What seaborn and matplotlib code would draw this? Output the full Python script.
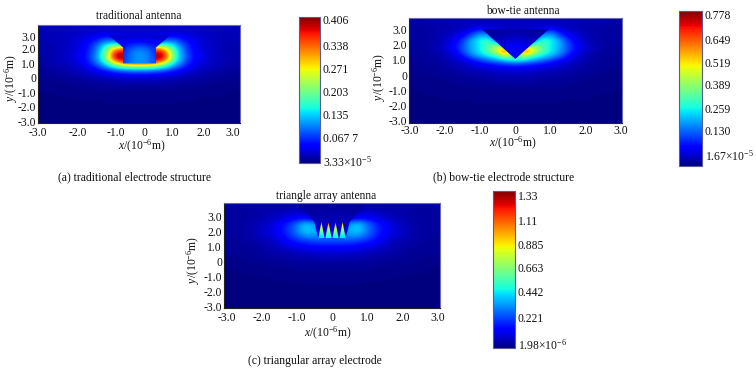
import numpy as np
import pandas as pd
import matplotlib.pyplot as plt
from matplotlib.patches import Polygon
import seaborn as sns

# field values, percent of the colour scale peak; rows top to bottom, 0.25 um steps
x_nodes = [-3, -2.75, -2.5, -2.25, -2, -1.75, -1.5, -1.25, -1, -0.75, -0.5, -0.25, 0,
           0.25, 0.5, 0.75, 1, 1.25, 1.5, 1.75, 2, 2.25, 2.5, 2.75, 3]
y_top_ab = 3.75
y_top_c = 4.0

field_a = [
    [6,6,6,6,7,7,7,7,7,7,7,7,7,7,7,7,7,7,7,7,7,6,6,6,6],
    [5,6,6,6,6,7,7,7,7,7,7,7,7,7,7,7,7,7,7,7,6,6,6,6,5],
    [5,5,5,6,6,7,7,7,8,7,7,7,7,7,7,7,8,7,7,7,6,6,5,5,5],
    [5,5,5,6,6,7,8,9,10,9,8,8,8,8,8,9,10,9,8,7,6,6,5,5,5],
    [5,5,5,6,7,8,10,14,18,16,14,12,12,12,14,16,18,14,10,8,7,6,5,5,5],
    [4,5,5,6,7,9,13,19,27,26,24,20,18,20,24,26,27,19,13,9,7,6,5,5,4],
    [4,4,5,6,7,10,15,24,38,46,46,44,42,44,46,46,38,24,15,10,7,6,5,4,4],
    [4,4,5,6,7,10,16,27,46,72,82,70,60,70,82,72,46,27,16,10,7,6,5,4,4],
    [4,4,5,6,8,11,17,29,50,88,93,85,70,85,93,88,50,29,17,11,8,6,5,4,4],
    [4,4,5,6,8,11,18,30,52,94,100,90,75,90,100,94,52,30,18,11,8,6,5,4,4],
    [3,4,5,6,8,11,17,29,48,84,94,90,80,90,94,84,48,29,17,11,8,6,5,4,3],
    [3,4,5,5,7,10,15,25,38,60,76,83,84,83,76,60,38,25,15,10,7,5,5,4,3],
    [3,3,4,5,6,8,12,18,28,38,46,49,50,49,46,38,28,18,12,8,6,5,4,3,3],
    [2,3,3,4,5,6,8,12,16,21,24,26,26,26,24,21,16,12,8,6,5,4,3,3,2],
    [2,2,3,3,4,5,6,8,10,12,13,14,14,14,13,12,10,8,6,5,4,3,3,2,2],
    [2,2,2,2,3,3,4,5,6,6,7,7,7,7,7,6,6,5,4,3,3,2,2,2,2],
    [1,1,2,2,2,3,3,3,4,4,5,5,5,5,5,4,4,3,3,3,2,2,2,1,1],
    [1,1,1,1,2,2,2,2,3,3,3,3,3,3,3,3,3,2,2,2,2,1,1,1,1],
    [1,1,1,1,1,1,2,2,2,2,2,2,2,2,2,2,2,2,2,1,1,1,1,1,1],
    [0,1,1,1,1,1,1,1,1,1,1,1,1,1,1,1,1,1,1,1,1,1,1,1,0],
    [0,0,1,1,1,1,1,1,1,1,1,1,1,1,1,1,1,1,1,1,1,1,1,0,0],
    [0,0,0,0,0,1,1,1,1,1,1,1,1,1,1,1,1,1,1,1,0,0,0,0,0],
    [0,0,0,0,0,0,0,0,1,1,1,1,1,1,1,1,1,0,0,0,0,0,0,0,0],
    [0,0,0,0,0,0,0,0,0,0,0,0,0,0,0,0,0,0,0,0,0,0,0,0,0],
    [0,0,0,0,0,0,0,0,0,0,0,0,0,0,0,0,0,0,0,0,0,0,0,0,0],
    [0,0,0,0,0,0,0,0,0,0,0,0,0,0,0,0,0,0,0,0,0,0,0,0,0],
    [0,0,0,0,0,0,0,0,0,0,0,0,0,0,0,0,0,0,0,0,0,0,0,0,0],
    [0,0,0,0,0,0,0,0,0,0,0,0,0,0,0,0,0,0,0,0,0,0,0,0,0],
    [0,0,0,0,0,0,0,0,0,0,0,0,0,0,0,0,0,0,0,0,0,0,0,0,0],
]

field_b = [
    [4,4,4,4,5,5,5,5,5,5,5,5,5,5,5,5,5,5,5,5,5,4,4,4,4],
    [3,4,4,4,4,5,5,5,5,5,5,5,5,5,5,5,5,5,5,5,4,4,4,4,3],
    [3,3,4,4,4,5,5,6,7,6,6,6,6,6,6,6,7,6,5,5,4,4,4,3,3],
    [3,3,3,4,4,5,6,9,14,10,8,6,6,6,8,10,14,9,6,5,4,4,3,3,3],
    [3,3,3,4,5,7,9,16,26,20,12,10,10,10,12,20,26,16,9,7,5,4,3,3,3],
    [3,3,3,4,5,8,13,22,32,32,16,12,10,12,16,32,32,22,13,8,5,4,3,3,3],
    [3,3,3,4,6,10,17,30,38,42,20,14,12,14,20,42,38,30,17,10,6,4,3,3,3],
    [2,3,3,4,7,11,19,30,36,46,46,20,14,20,46,46,36,30,19,11,7,4,3,3,2],
    [2,3,3,5,7,12,20,30,36,46,62,72,16,72,62,46,36,30,20,12,7,5,3,3,2],
    [2,2,3,4,6,10,18,28,36,44,60,88,18,88,60,44,36,28,18,10,6,4,3,2,2],
    [2,2,3,3,5,8,13,24,30,36,42,60,40,60,42,36,30,24,13,8,5,3,3,2,2],
    [2,2,2,3,4,6,9,14,20,26,30,36,42,36,30,26,20,14,9,6,4,3,2,2,2],
    [2,2,2,3,3,5,6,9,12,15,18,20,22,20,18,15,12,9,6,5,3,3,2,2,2],
    [1,2,2,2,3,4,5,6,8,9,10,11,12,11,10,9,8,6,5,4,3,2,2,2,1],
    [1,1,2,2,3,3,4,5,5,6,7,7,8,7,7,6,5,5,4,3,3,2,2,1,1],
    [1,1,1,2,2,2,3,3,4,4,5,5,5,5,5,4,4,3,3,2,2,2,1,1,1],
    [1,1,1,1,2,2,2,3,3,3,4,4,4,4,4,3,3,3,2,2,2,1,1,1,1],
    [1,1,1,1,1,2,2,2,2,2,3,3,3,3,3,2,2,2,2,2,1,1,1,1,1],
    [1,1,1,1,1,1,1,2,2,2,2,2,2,2,2,2,2,2,1,1,1,1,1,1,1],
    [0,1,1,1,1,1,1,1,1,1,1,1,1,1,1,1,1,1,1,1,1,1,1,1,0],
    [0,0,1,1,1,1,1,1,1,1,1,1,1,1,1,1,1,1,1,1,1,1,1,0,0],
    [0,0,0,0,1,1,1,1,1,1,1,1,1,1,1,1,1,1,1,1,1,0,0,0,0],
    [0,0,0,0,0,0,0,1,1,1,1,1,1,1,1,1,1,1,0,0,0,0,0,0,0],
    [0,0,0,0,0,0,0,0,0,0,0,0,0,0,0,0,0,0,0,0,0,0,0,0,0],
    [0,0,0,0,0,0,0,0,0,0,0,0,0,0,0,0,0,0,0,0,0,0,0,0,0],
    [0,0,0,0,0,0,0,0,0,0,0,0,0,0,0,0,0,0,0,0,0,0,0,0,0],
    [0,0,0,0,0,0,0,0,0,0,0,0,0,0,0,0,0,0,0,0,0,0,0,0,0],
    [0,0,0,0,0,0,0,0,0,0,0,0,0,0,0,0,0,0,0,0,0,0,0,0,0],
    [0,0,0,0,0,0,0,0,0,0,0,0,0,0,0,0,0,0,0,0,0,0,0,0,0],
]

field_c = [
    [5,5,5,5,5,5,5,5,5,5,5,5,5,5,5,5,5,5,5,5,5,5,5,5,5],
    [4,4,4,4,4,4,4,4,4,4,4,4,4,4,4,4,4,4,4,4,4,4,4,4,4],
    [3,3,3,4,4,4,4,4,5,4,4,4,4,4,4,4,5,4,4,4,4,4,3,3,3],
    [3,3,3,3,4,4,5,6,7,6,4,4,4,4,4,6,7,6,5,4,4,3,3,3,3],
    [3,3,3,3,4,5,6,8,10,9,6,4,4,4,6,9,10,8,6,5,4,3,3,3,3],
    [3,3,3,4,5,6,8,11,15,18,14,8,6,8,14,18,15,11,8,6,5,4,3,3,3],
    [3,3,3,4,5,7,11,16,22,32,26,16,12,16,26,32,22,16,11,7,5,4,3,3,3],
    [3,3,3,4,6,8,12,17,24,34,30,20,14,20,30,34,24,17,12,8,6,4,3,3,3],
    [3,3,3,4,6,8,12,17,24,33,30,24,16,24,30,33,24,17,12,8,6,4,3,3,3],
    [3,3,3,4,6,8,11,16,22,28,28,24,20,24,28,28,22,16,11,8,6,4,3,3,3],
    [2,3,3,4,5,6,9,14,18,22,23,22,22,22,23,22,18,14,9,6,5,4,3,3,2],
    [2,2,3,3,4,5,8,11,14,16,17,18,18,18,17,16,14,11,8,5,4,3,3,2,2],
    [2,2,2,3,4,4,6,8,10,12,13,13,13,13,13,12,10,8,6,4,4,3,2,2,2],
    [2,2,2,2,3,4,5,6,7,8,9,9,9,9,9,8,7,6,5,4,3,2,2,2,2],
    [2,2,2,2,3,3,4,4,5,6,6,7,7,7,6,6,5,4,4,3,3,2,2,2,2],
    [1,1,2,2,2,3,3,3,4,4,5,5,5,5,5,4,4,3,3,3,2,2,2,1,1],
    [1,1,1,2,2,2,2,3,3,3,3,3,3,3,3,3,3,3,2,2,2,2,1,1,1],
    [1,1,1,1,1,2,2,2,2,2,2,2,2,2,2,2,2,2,2,2,1,1,1,1,1],
    [0,1,1,1,1,1,1,1,2,2,2,2,2,2,2,2,2,1,1,1,1,1,1,1,0],
    [0,0,1,1,1,1,1,1,1,1,1,1,1,1,1,1,1,1,1,1,1,1,1,0,0],
    [0,0,0,0,1,1,1,1,1,1,1,1,1,1,1,1,1,1,1,1,1,0,0,0,0],
    [0,0,0,0,0,0,1,1,1,1,1,1,1,1,1,1,1,1,1,0,0,0,0,0,0],
    [0,0,0,0,0,0,0,0,0,1,1,1,1,1,1,1,0,0,0,0,0,0,0,0,0],
    [0,0,0,0,0,0,0,0,0,0,0,0,0,0,0,0,0,0,0,0,0,0,0,0,0],
    [0,0,0,0,0,0,0,0,0,0,0,0,0,0,0,0,0,0,0,0,0,0,0,0,0],
    [0,0,0,0,0,0,0,0,0,0,0,0,0,0,0,0,0,0,0,0,0,0,0,0,0],
    [0,0,0,0,0,0,0,0,0,0,0,0,0,0,0,0,0,0,0,0,0,0,0,0,0],
    [0,0,0,0,0,0,0,0,0,0,0,0,0,0,0,0,0,0,0,0,0,0,0,0,0],
    [0,0,0,0,0,0,0,0,0,0,0,0,0,0,0,0,0,0,0,0,0,0,0,0,0],
    [0,0,0,0,0,0,0,0,0,0,0,0,0,0,0,0,0,0,0,0,0,0,0,0,0],
]

# inside the electrodes, percent of peak, x -1..1, 0.25 um steps, y from the top down
electrode_a = [
    [6,6,6,6,6,6,6,6,6],
    [7,7,7,8,8,8,7,7,7],
    [9,9,10,12,12,12,10,9,9],
    [12,12,13,16,18,16,13,12,12],
    [14,14,15,21,24,21,15,14,14],
    [15,15,16,24,27,24,16,15,15],
    [15,15,17,25,28,25,17,15,15],
    [15,15,17,25,28,25,17,15,15],
    [17,17,20,25,27,25,20,17,17],
]
electrode_b = [
    [3,3,3,3,3,3,3,3,3],
    [3,3,3,4,4,4,3,3,3],
    [4,4,4,5,6,5,4,4,4],
    [5,5,6,7,8,7,6,5,5],
    [7,7,7,9,11,9,7,7,7],
    [9,9,9,10,13,10,9,9,9],
    [10,10,10,12,14,12,10,10,10],
    [10,10,10,11,13,11,10,10,10],
    [10,10,10,10,10,10,10,10,10],
]
electrode_c = [
    [3,3,3,3,3,3,3,3,3],
    [3,3,3,3,3,3,3,3,3],
    [3,3,3,3,3,3,3,3,3],
    [3,3,3,4,4,4,3,3,3],
    [4,4,4,4,4,4,4,4,4],
    [4,4,5,5,5,5,5,4,4],
    [5,5,6,6,6,6,6,5,5],
    [6,6,8,8,8,8,8,6,6],
    [7,7,9,10,10,10,9,7,7],
    [8,8,10,11,11,11,10,8,8],
    [9,9,11,12,12,12,11,9,9],
]
electrode_x = [-1, -0.75, -0.5, -0.25, 0, 0.25, 0.5, 0.75, 1]
electrode_top = [3.0, 3.0, 4.0]

outline_a = [(-0.94, 2.96), (0.94, 2.96), (0.5, 2.1), (0.5, 1.0), (-0.5, 1.0), (-0.5, 2.1)]
outline_b = [(-0.95, 3.0), (0.95, 3.0), (0.0, 1.05)]
outline_c = [(-1.0, 3.95), (1.0, 3.95), (0.5, 2.67), (0.39, 1.6), (-0.39, 1.6), (-0.5, 2.67)]

# hot gaps between the teeth of the triangle array, top down
spike_x = [-0.3, -0.1, 0.1, 0.3]
spike_half_width = 0.09
spike_tip = 2.66
spike_base = 1.58
spike_levels = [
    [72, 88, 88, 72],
    [65, 72, 72, 65],
    [58, 60, 60, 58],
    [50, 52, 52, 50],
    [42, 45, 45, 42],
    [35, 38, 38, 35],
]

peaks = [0.406, 0.778, 1.33]
titles = ['traditional antenna', 'bow-tie antenna', 'triangle array antenna']
captions = ['(a) traditional electrode structure', '(b) bow-tie electrode structure',
            '(c) triangular array electrode']
bar_labels_a = ['0.406', '0.338', '0.271', '0.203', '0.135', '0.067 7', '3.33×10$^{-5}$']
bar_labels_b = ['0.778', '0.649', '0.519', '0.389', '0.259', '0.130', '1.67×10$^{-5}$']
bar_labels_c = ['1.33', '1.11', '0.885', '0.663', '0.442', '0.221', '1.98×10$^{-6}$']
bar_pos_a = [0.398, 0.328, 0.264, 0.200, 0.136, 0.072, 0.006]
bar_pos_b = [0.758, 0.637, 0.522, 0.407, 0.291, 0.176, 0.055]
bar_pos_c = [1.288, 1.084, 0.881, 0.686, 0.475, 0.262, 0.034]

tick_values = [-3, -2, -1, 0, 1, 2, 3]
tick_names = ['-3.0', '-2.0', '-1.0', '0', '1.0', '2.0', '3.0']
xlabel_pos_a = [-3.09, -1.88, -0.73, 0.15, 1.0, 1.94, 2.85]
ylabel_pos_a = [-3.05, -1.98, -1.05, 0.03, 1.02, 2.0, 2.85]

W, H = 756, 372
plt.rcParams['figure.dpi'] = 100
sns.set_theme(style='ticks')
plt.rcParams['font.family'] = ['Liberation Serif', 'DejaVu Sans']
plt.rcParams['mathtext.fontset'] = 'custom'
plt.rcParams['mathtext.rm'] = 'Liberation Serif'
plt.rcParams['mathtext.it'] = 'Liberation Serif:italic'
plt.rcParams['axes.unicode_minus'] = False

fig = plt.figure(figsize=(W / 100, H / 100), dpi=100)


def px_axes(left, top, right, bottom):
    return fig.add_axes([left / W, 1 - bottom / H, (right - left) / W, (bottom - top) / H])


def px_text(x, y, s, **kw):
    fig.text(x / W, 1 - y / H, s, ha='center', va='center', color='#111111', **kw)


def draw_panel(field, y_top, peak, inner, inner_top, outline, box, bar_box, xlim, ylim,
               bar_pos, bar_labels, xlabel_pos=None, ylabel_pos=None, xpad=1.5):
    ax = px_axes(*box)
    cax = px_axes(*bar_box)
    values = np.array(field) / 100 * peak
    table = pd.DataFrame(values, columns=x_nodes)
    sns.heatmap(table, ax=ax, cbar_ax=cax, cmap='jet', vmin=0, vmax=peak,
                xticklabels=False, yticklabels=False)
    n_rows, n_cols = values.shape

    def cx(x):
        return (np.asarray(x) + 3) / 0.25 + 0.5

    def cy(y):
        return (y_top - np.asarray(y)) / 0.25 + 0.5

    ax.imshow(values, cmap='jet', vmin=0, vmax=peak, aspect='auto', interpolation='bicubic',
              extent=(0, n_cols, n_rows, 0), zorder=2)

    # electrode body, its own smooth field with a sharp edge
    inner = np.array(inner) / 100 * peak
    left, right = cx(-1.125), cx(1.125)
    upper, lower = cy(inner_top + 0.125), cy(inner_top + 0.125 - 0.25 * inner.shape[0])
    im = ax.imshow(inner, cmap='jet', vmin=0, vmax=peak, aspect='auto', interpolation='bicubic',
                   extent=(left, right, lower, upper), zorder=3)
    shape = Polygon([(cx(a), cy(b)) for a, b in outline], closed=True, transform=ax.transData)
    im.set_clip_path(shape)

    ax.set_xlim(cx(xlim[0]), cx(xlim[1]))
    ax.set_ylim(cy(ylim[0]), cy(ylim[1]))

    ax.xaxis.remove_overlapping_locs = False
    ax.yaxis.remove_overlapping_locs = False
    ax.set_xticks(cx(tick_values))
    ax.set_yticks(cy(tick_values))
    ax.set_xticklabels([])
    ax.set_yticklabels([])
    ax.set_xticks(cx(tick_values if xlabel_pos is None else xlabel_pos), tick_names, minor=True)
    ax.set_yticks(cy(tick_values if ylabel_pos is None else ylabel_pos), tick_names, minor=True)
    ax.tick_params(which='major', length=2, width=0.7, direction='in', color='#222222',
                   top=False, right=False)
    ax.tick_params(which='minor', length=0, labelsize=8.4, pad=1.5, colors='#111111')
    ax.tick_params(axis='x', which='minor', pad=xpad)
    ax.tick_params(axis='y', which='minor', labelrotation=0)
    for name, spine in ax.spines.items():
        spine.set_visible(True)
        spine.set_zorder(5)
        spine.set_linewidth(0.8)
        spine.set_color('#222222' if name in ('left', 'bottom') else '#6a6ab0')

    cbar = ax.collections[0].colorbar
    cbar.set_ticks(bar_pos, labels=bar_labels)
    cbar.ax.tick_params(length=0, labelsize=8.4, pad=2, colors='#111111')
    cbar.outline.set_linewidth(0.8)
    cbar.outline.set_edgecolor('#5a5a98')
    return ax, cx, cy


draw_panel(field_a, y_top_ab, peaks[0], electrode_a, electrode_top[0], outline_a,
           (38, 25, 240, 123), (299, 17, 320, 163), (-3.06, 3.06), (-3.14, 3.66),
           bar_pos_a, bar_labels_a, xlabel_pos_a, ylabel_pos_a, xpad=3)
draw_panel(field_b, y_top_ab, peaks[1], electrode_b, electrode_top[1], outline_b,
           (409, 18, 622, 123), (679, 11, 702, 166), (-3.02, 3.03), (-3.14, 3.73),
           bar_pos_b, bar_labels_b)
ax_c, cx_c, cy_c = draw_panel(field_c, y_top_c, peaks[2], electrode_c, electrode_top[2], outline_c,
                              (224, 203, 440, 308), (493, 191, 515, 348), (-3.07, 3.07), (-3.07, 3.93),
                              bar_pos_c, bar_labels_c, xpad=3)

# spikes in panel c, one column of levels per gap
levels = np.array(spike_levels) / 100 * peaks[2]
for i, mid in enumerate(spike_x):
    l, r = cx_c(mid - spike_half_width), cx_c(mid + spike_half_width)
    im = ax_c.imshow(levels[:, [i]], cmap='jet', vmin=0, vmax=peaks[2], aspect='auto',
                     interpolation='bilinear', extent=(l, r, cy_c(spike_base), cy_c(spike_tip)), zorder=4)
    tri = Polygon([(l, cy_c(spike_base)), (r, cy_c(spike_base)), (cx_c(mid), cy_c(spike_tip))],
                  closed=True, transform=ax_c.transData)
    im.set_clip_path(tri)
ax_c.set_xlim(cx_c(-3.07), cx_c(3.07))
ax_c.set_ylim(cy_c(-3.07), cy_c(3.93))

xlab = '$\\mathit{x}$/(10$^{-6}$m)'
ylab = '$\\mathit{y}$/(10$^{-6}$m)'
px_text(142, 146, xlab, fontsize=8.4)
px_text(513, 143, xlab, fontsize=8.4)
px_text(328, 333, xlab, fontsize=8.4)
px_text(11, 78, ylab, fontsize=8.4, rotation=90)
px_text(379, 77, ylab, fontsize=8.4, rotation=90)
px_text(193, 260, ylab, fontsize=8.4, rotation=90)

px_text(139, 16, titles[0], fontsize=8.3)
px_text(523, 11, titles[1], fontsize=8.3)
px_text(326, 196, titles[2], fontsize=8.3)

px_text(134, 177, captions[0], fontsize=8.4)
px_text(504, 177, captions[1], fontsize=8.4)
px_text(315, 361, captions[2], fontsize=8.4)

fig.savefig('out.png', dpi=100)
